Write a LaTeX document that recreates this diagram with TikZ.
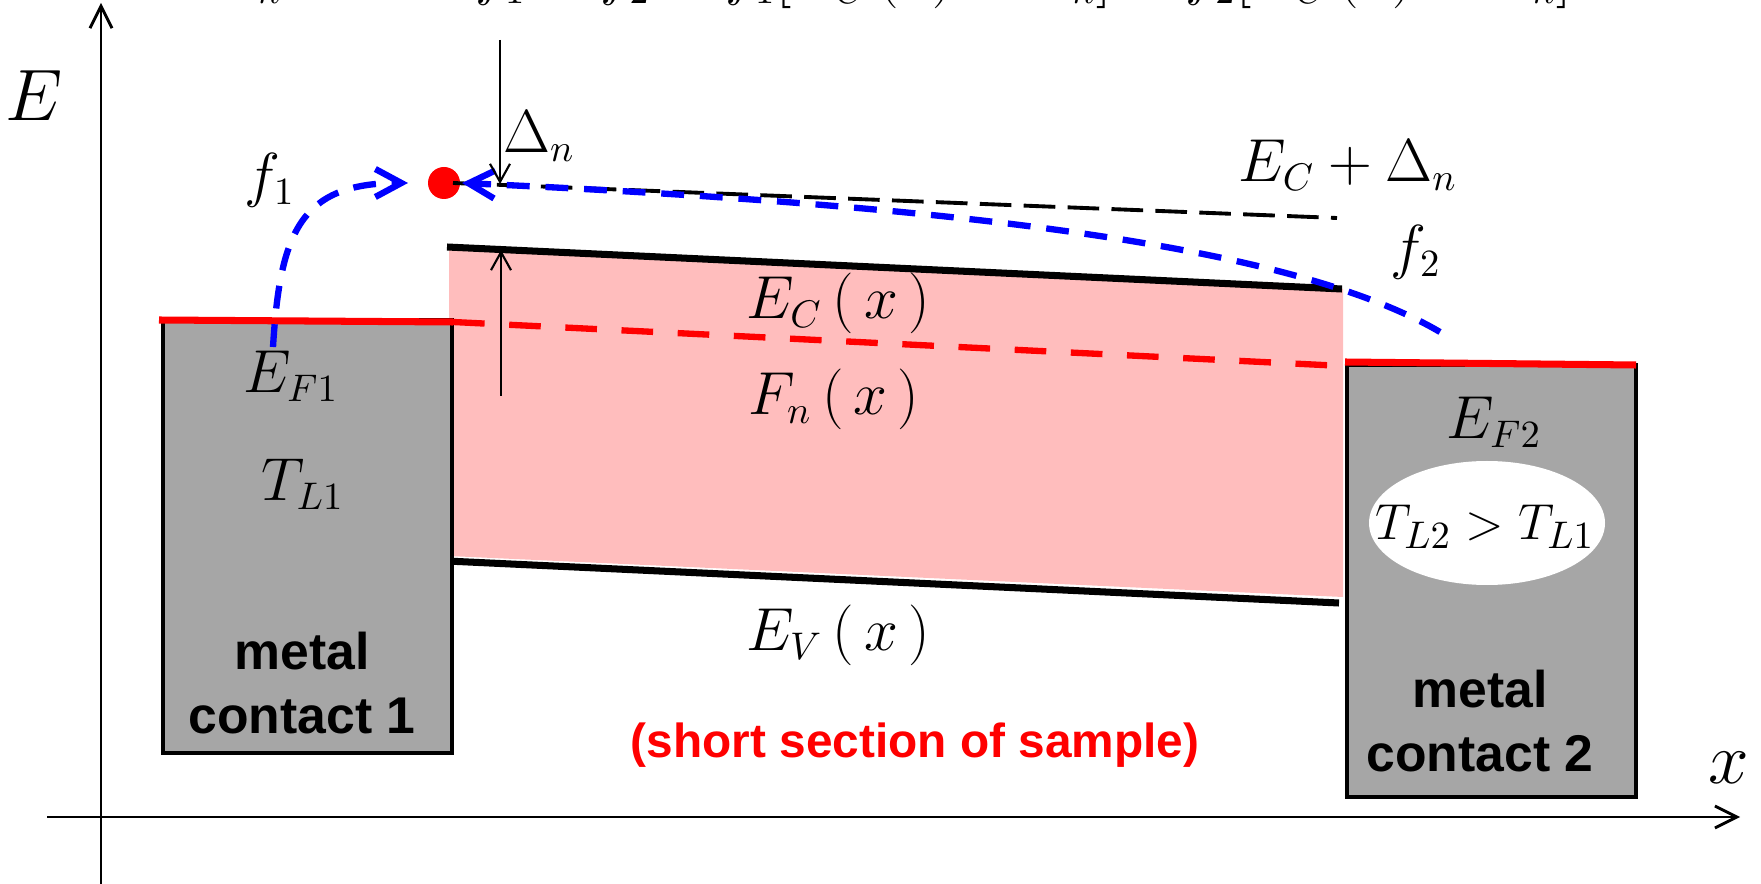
\documentclass[tikz,border=0pt]{standalone}
\usepackage{fontspec}
\setsansfont{Liberation Sans}
\usepackage{tikz}
\usetikzlibrary{arrows.meta,shapes.geometric}
\definecolor{metalgray}{HTML}{A6A6A6}
\definecolor{bandpink}{HTML}{FFBDBD}

\begin{document}
\begin{tikzpicture}[
    mathlbl/.style={font=\fontsize{16}{19}\selectfont, inner sep=0pt},
    metallbl/.style={font=\sffamily\bfseries\fontsize{14.7}{18}\selectfont, align=center, inner sep=0pt},
    bandedge/.style={line width=2pt},
    contact/.style={fill=metalgray, draw=black, line width=1.2pt},
    fermi/.style={red, line width=2pt},
    carrier/.style={blue, line width=1.8pt, dash pattern=on 6.5pt off 4.5pt,
        -{Straight Barb[length=2.6mm,width=2.8mm]}},
    marker/.style={line width=0.6pt, -{Straight Barb[length=1.8mm,width=2mm]}},
    axis/.style={line width=0.8pt, -{Straight Barb[length=2.2mm,width=2.2mm]}},
]
    \useasboundingbox (0,0) rectangle (17.61,8.83);

    % Equation cut off at the top
    \node[mathlbl, anchor=base east] (eqlhs) at (7.12,8.89)
        {$J_n \quad\propto\quad f_1 - f_2 =$};
    \node[mathlbl, anchor=base west] (eqrhs) at (7.25,8.89)
        {$f_1\bigl[E_C\,(x) + \Delta_n\bigr] - f_2\bigl[E_C\,(x) + \Delta_n\bigr]$};

    % Axes
    \coordinate (xaxis0) at (0.47,0.66);
    \coordinate (xaxis1) at (17.40,0.66);
    \coordinate (eaxis0) at (1.01,-0.20);
    \coordinate (eaxis1) at (1.01,8.80);
    \draw[axis] (xaxis0) -- (xaxis1);
    \draw[axis] (eaxis0) -- (eaxis1);
    \node[mathlbl, font=\fontsize{20}{24}\selectfont] (lblE) at (0.34,7.87) {$E$};
    \node[mathlbl, font=\fontsize{20}{24}\selectfont] (lblx) at (17.29,1.15) {$x$};

    % Sample (bands)
    \fill[bandpink] (4.49,6.36) -- (13.43,5.94) -- (13.43,2.86) -- (4.49,3.27) -- cycle;
    \draw[bandedge] (4.47,6.36) -- (13.42,5.94);
    \draw[bandedge] (4.47,3.22) -- (13.39,2.80);

    % Contact 1
    \draw[contact] (1.63,1.30) rectangle (4.52,5.63);
    \draw[fermi] (1.59,5.63) -- (4.53,5.61);
    % Contact 2
    \draw[contact] (13.47,0.86) rectangle (16.36,5.18);
    \draw[fermi] (13.45,5.21) -- (16.36,5.18);

    % Quasi-Fermi level
    \draw[red, line width=1.8pt, dash pattern=on 9pt off 7pt] (4.53,5.61) -- (13.43,5.17);

    % E_C + Delta_n
    \node[circle, fill=red, minimum size=3.2mm, inner sep=0pt] (dot) at (4.44,7.00) {};
    \draw[line width=1.1pt, dash pattern=on 9pt off 3.5pt] (4.53,7.00) -- (13.37,6.65);

    % Carriers from both contacts
    \coordinate (f1start) at (2.73,5.36);
    \coordinate (f1end) at (4.08,7.00);
    \coordinate (f2start) at (14.40,5.51);
    \coordinate (f2end) at (4.62,7.00);
    \draw[carrier] (f1start) .. controls (2.80,6.50) and (3.00,7.00) .. (f1end);
    \draw[carrier] (f2start) .. controls (12.80,6.45) and (9.00,6.80) .. (f2end);

    % Delta_n markers
    \coordinate (dntop) at (5.00,8.43);
    \coordinate (dnline) at (5.00,6.99);
    \coordinate (dnlow) at (5.01,4.87);
    \coordinate (dnband) at (5.01,6.33);
    \draw[marker] (dntop) -- (dnline);
    \draw[marker] (dnlow) -- (dnband);

    % Labels
    \node[mathlbl] (lbldn) at (5.39,7.47) {$\Delta_n$};
    \node[mathlbl] (lblf1) at (2.70,7.03) {$f_1$};
    \node[mathlbl] (lblf2) at (14.16,6.31) {$f_2$};
    \node[mathlbl] (lblecdn) at (13.48,7.18) {$E_C + \Delta_n$};
    \node[mathlbl] (lblec) at (8.38,5.80) {$E_C\,\bigl(\,x\,\bigr)$};
    \node[mathlbl] (lblfn) at (8.34,4.84) {$F_n\,\bigl(\,x\,\bigr)$};
    \node[mathlbl] (lblev) at (8.38,2.48) {$E_V\,\bigl(\,x\,\bigr)$};
    \node[mathlbl] (lblef1) at (2.91,5.07) {$E_{F1}$};
    \node[mathlbl] (lbltl1) at (3.03,3.99) {$T_{L1}$};
    \node[mathlbl] (lblef2) at (14.94,4.61) {$E_{F2}$};
    \node[ellipse, fill=white, minimum width=2.36cm, minimum height=1.24cm, inner sep=0pt]
        (hot) at (14.87,3.60) {};
    \node[mathlbl, font=\fontsize{15.5}{19}\selectfont] (lbltl2) at (14.85,3.56) {$T_{L2} > T_{L1}$};
    \node[metallbl] (metal1) at (3.02,2.00) {metal\\contact 1};
    \node[metallbl] (metal2) at (14.80,1.62) {metal\\contact 2};
    \node[metallbl, red, font=\sffamily\bfseries\fontsize{13.6}{16}\selectfont] (sample) at (9.15,1.38)
        {(short section of sample)};
\end{tikzpicture}
\end{document}
